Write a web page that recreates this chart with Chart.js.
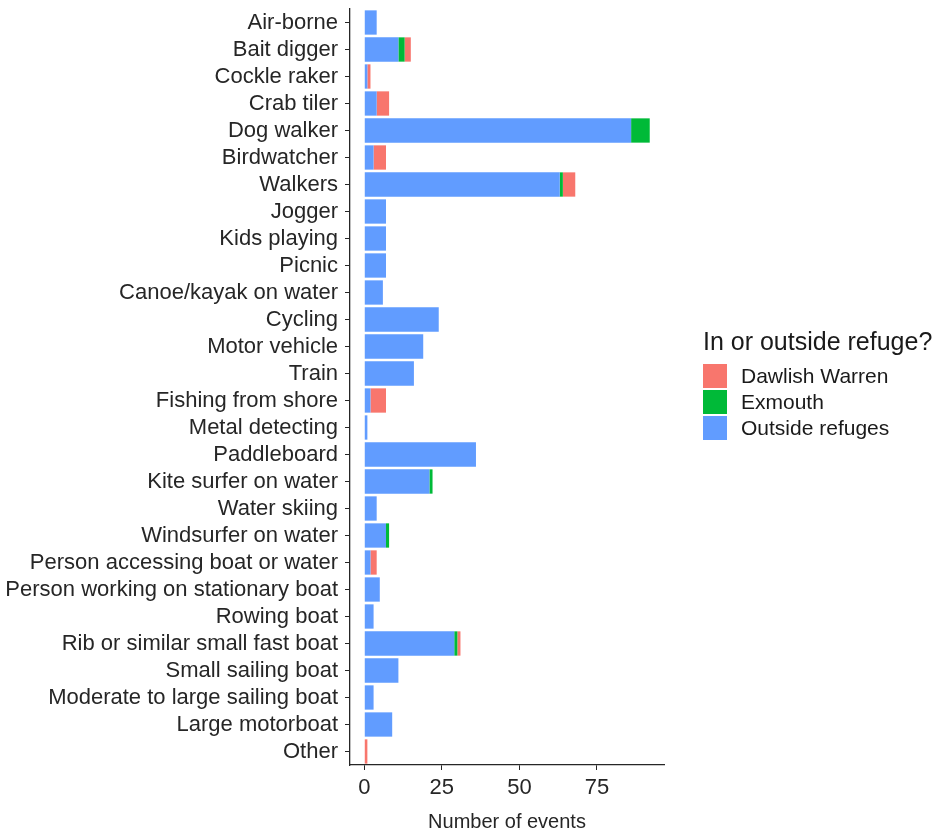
<!DOCTYPE html>
<html>
<head>
<meta charset="utf-8">
<script src="https://cdn.jsdelivr.net/npm/chart.js@4"></script>
<style>
  html, body { margin: 0; padding: 0; background: #fff; }
  #wrap { position: relative; width: 951px; height: 836px; font-family: "Liberation Sans", Arial, sans-serif; }
  #legend { position: absolute; left: 703px; top: 326px; color: #1a1a1a; }
  #legend .title { font-size: 25px; line-height: 30px; margin-bottom: 7px; }
  #legend .item { display: flex; align-items: center; height: 26px; font-size: 21px; }
  #legend .key { width: 24px; height: 24px; margin-right: 14px; }
</style>
</head>
<body>
<div id="wrap">
  <canvas id="chart" width="951" height="836"></canvas>
  <div id="legend"></div>
</div>
<script>
const activities = ['Air-borne', 'Bait digger', 'Cockle raker', 'Crab tiler', 'Dog walker', 'Birdwatcher',
  'Walkers', 'Jogger', 'Kids playing', 'Picnic', 'Canoe/kayak on water', 'Cycling', 'Motor vehicle',
  'Train', 'Fishing from shore', 'Metal detecting', 'Paddleboard', 'Kite surfer on water', 'Water skiing',
  'Windsurfer on water', 'Person accessing boat or water', 'Person working on stationary boat',
  'Rowing boat', 'Rib or similar small fast boat', 'Small sailing boat', 'Moderate to large sailing boat',
  'Large motorboat', 'Other'];

const outsideRefuges = [4, 11, 1, 4, 86, 3, 63, 7, 7, 7, 6, 24, 19, 16, 2, 1, 36, 21, 4, 7, 2, 5, 3, 29, 11, 3, 9, 0];
const exmouth        = [0, 2, 0, 0, 6, 0, 1, 0, 0, 0, 0, 0, 0, 0, 0, 0, 0, 1, 0, 1, 0, 0, 0, 1, 0, 0, 0, 0];
const dawlishWarren  = [0, 2, 1, 4, 0, 4, 4, 0, 0, 0, 0, 0, 0, 0, 5, 0, 0, 0, 0, 0, 2, 0, 0, 1, 0, 0, 0, 1];

const xTicks = [0, 25, 50, 75];

// legend order as in the original, stacking order is the reverse
const groups = [
  { label: 'Dawlish Warren', data: dawlishWarren, color: '#F8766D' },
  { label: 'Exmouth', data: exmouth, color: '#00BA38' },
  { label: 'Outside refuges', data: outsideRefuges, color: '#619CFF' }
];

const ink = '#262626';

new Chart(document.getElementById('chart'), {
  type: 'bar',
  data: {
    labels: activities,
    datasets: groups.slice().reverse().map(g => ({
      label: g.label,
      data: g.data,
      backgroundColor: g.color,
      borderWidth: 0,
      barPercentage: 0.9,
      categoryPercentage: 1
    }))
  },
  options: {
    indexAxis: 'y',
    responsive: false,
    animation: false,
    layout: { padding: { top: 9, right: 287, left: 0, bottom: 0 } },
    plugins: { legend: { display: false }, tooltip: { enabled: false } },
    scales: {
      x: {
        stacked: true,
        min: -4.6,
        max: 96.6,
        afterBuildTicks: scale => { scale.ticks = xTicks.map(v => ({ value: v })); },
        afterFit: scale => { scale.height = 71; },
        grid: { drawOnChartArea: false, drawTicks: true, tickLength: 5, color: ink, lineWidth: 1 },
        border: { display: true, color: ink, width: 1.3 },
        ticks: { color: ink, font: { family: 'Liberation Sans', size: 22 }, padding: 5, maxRotation: 0 },
        title: {
          display: true,
          text: 'Number of events',
          color: ink,
          font: { family: 'Liberation Sans', size: 20 },
          padding: { top: 0, bottom: 2 }
        }
      },
      y: {
        stacked: true,
        afterFit: scale => {
          scale.width = 350;
          scale.paddingTop = 0;
          scale.paddingBottom = 0;
        },
        grid: { offset: false, drawOnChartArea: false, drawTicks: true, tickLength: 5, color: ink, lineWidth: 1 },
        border: { display: true, color: ink, width: 1.3 },
        ticks: { color: ink, font: { family: 'Liberation Sans', size: 22 }, padding: 7, autoSkip: false }
      }
    }
  }
});

const legend = document.getElementById('legend');
legend.innerHTML = '<div class="title">In or outside refuge?</div>' +
  groups.map(g => '<div class="item"><span class="key" style="background:' + g.color + '"></span>' + g.label + '</div>').join('');
</script>
</body>
</html>
